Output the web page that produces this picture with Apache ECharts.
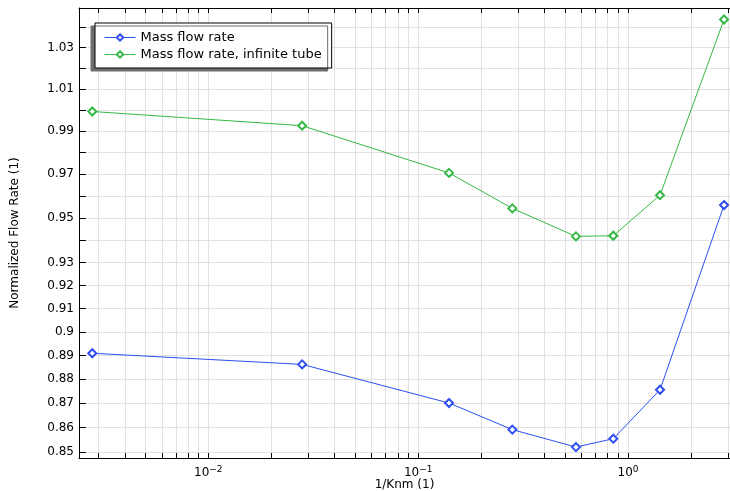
<!DOCTYPE html>
<html>
<head>
<meta charset="utf-8">
<script src="https://cdn.jsdelivr.net/npm/echarts@6/dist/echarts.min.js"></script>
<style>
html,body{margin:0;padding:0;background:#fff;}
#chart{width:730px;height:491px;}
</style>
</head>
<body>
<div id="chart"></div>
<script>
// ---- data ----
var xValues = [0.0028, 0.028, 0.1403, 0.281, 0.565, 0.851, 1.421, 2.868];
var massFlow = [0.8909, 0.8862, 0.8701, 0.8592, 0.8521, 0.8555, 0.8756, 0.9558];
var massFlowInfinite = [0.9992, 0.9925, 0.9705, 0.9543, 0.9417, 0.9420, 0.9603, 1.0438];
var seriesNames = ['Mass flow rate', 'Mass flow rate, infinite tube'];
var xTicks = [0.003,0.004,0.005,0.006,0.007,0.008,0.009,
              0.01,0.02,0.03,0.04,0.05,0.06,0.07,0.08,0.09,
              0.1,0.2,0.3,0.4,0.5,0.6,0.7,0.8,0.9,
              1,2,3];
var xLabels = [0.01, 0.1, 1];
var yTicks = [0.85,0.86,0.87,0.88,0.89,0.9,0.91,0.92,0.93,0.94,0.95,0.96,0.97,0.98,0.99,1.0,1.01,1.02,1.03,1.04];
var yLabels = [0.85,0.86,0.87,0.88,0.89,0.9,0.91,0.92,0.93,0.95,0.97,0.99,1.01,1.03];
var xAxisName = '1/Knm (1)';
var yAxisName = 'Normalized Flow Rate (1)';

var X_MIN = 0.00242, X_MAX = 3.062;
var Y_MIN = 0.8477, Y_MAX = 1.0495;

var FONT = 'DejaVu Sans';
var chart = echarts.init(document.getElementById('chart'), null, {renderer: 'canvas'});

function pair(xs, ys) { return xs.map(function (x, i) { return [x, ys[i]]; }); }

var option = {
  animation: false,
  backgroundColor: '#fff',
  textStyle: {fontFamily: FONT},
  grid: {left: 79, top: 8, right: 0, bottom: 33, containLabel: false, outerBoundsMode: 'none'},
  legend: {
    orient: 'vertical',
    left: 95, top: 23,
    padding: [7, 10, 6, 9],
    itemGap: 2,
    itemWidth: 31, itemHeight: 8,
    backgroundColor: '#fff',
    borderColor: '#000', borderWidth: 1,
    shadowColor: '#6e6e6e', shadowBlur: 0, shadowOffsetX: -4, shadowOffsetY: 3,
    textStyle: {fontFamily: FONT, fontSize: 13, color: '#000', lineHeight: 15},
    lineStyle: {width: 1},
    itemStyle: {borderWidth: 1},
    data: seriesNames
  },
  xAxis: [{
    type: 'log', logBase: 10, min: X_MIN, max: X_MAX,
    name: xAxisName, nameLocation: 'middle', nameGap: 21, nameMoveOverlap: false,
    nameTextStyle: {fontFamily: FONT, fontSize: 12, color: '#000'},
    axisLine: {show: true, onZero: false, lineStyle: {color: '#000', width: 1}},
    axisTick: {show: true, inside: true, length: 5, customValues: xTicks, lineStyle: {color: '#000'}},
    axisLabel: {
      customValues: xLabels, margin: 7, color: '#000', fontFamily: FONT, fontSize: 12,
      formatter: function (v) {
        var e = Math.round(Math.log10(v));
        return '{b|10}{s|' + (e < 0 ? '\u2212' + (-e) : e) + '}';
      },
      rich: {
        b: {fontSize: 12, fontFamily: FONT, color: '#000'},
        s: {fontSize: 9, fontFamily: FONT, color: '#000', padding: [0, 0, 7, 0]}
      }
    },
    splitLine: {show: true, lineStyle: {color: '#e1e1e1', width: 1}}
  }, {
    type: 'log', logBase: 10, min: X_MIN, max: X_MAX, position: 'top',
    axisLine: {show: true, onZero: false, lineStyle: {color: '#000', width: 1}},
    axisTick: {show: true, inside: true, length: 5, customValues: xTicks, lineStyle: {color: '#000'}},
    axisLabel: {show: false},
    splitLine: {show: false}
  }],
  yAxis: [{
    type: 'log', logBase: 10, min: Y_MIN, max: Y_MAX,
    name: yAxisName, nameLocation: 'middle', nameGap: 58, nameMoveOverlap: false,
    nameTextStyle: {fontFamily: FONT, fontSize: 12, color: '#000'},
    axisLine: {show: true, onZero: false, lineStyle: {color: '#000', width: 1}},
    axisTick: {show: true, inside: true, length: 7, customValues: yTicks, lineStyle: {color: '#000'}},
    axisLabel: {
      customValues: yLabels, margin: 5, color: '#000', fontFamily: FONT, fontSize: 12,
      formatter: function (v) { return String(+(+v).toFixed(2)); }
    },
    splitLine: {show: true, lineStyle: {color: '#e1e1e1', width: 1}}
  }],
  series: [{
    name: seriesNames[0], type: 'line', xAxisIndex: 0, yAxisIndex: 0,
    data: pair(xValues, massFlow),
    symbol: 'emptyDiamond', symbolSize: 8,
    color: '#2d4ff0',
    lineStyle: {width: 1, color: '#2d4ff0'},
    itemStyle: {color: '#2d4ff0', borderWidth: 1}
  }, {
    name: seriesNames[1], type: 'line', xAxisIndex: 0, yAxisIndex: 0,
    data: pair(xValues, massFlowInfinite),
    symbol: 'emptyDiamond', symbolSize: 8,
    color: '#35b845',
    lineStyle: {width: 1, color: '#35b845'},
    itemStyle: {color: '#35b845', borderWidth: 1}
  }]
};
chart.setOption(option);
</script>
</body>
</html>
